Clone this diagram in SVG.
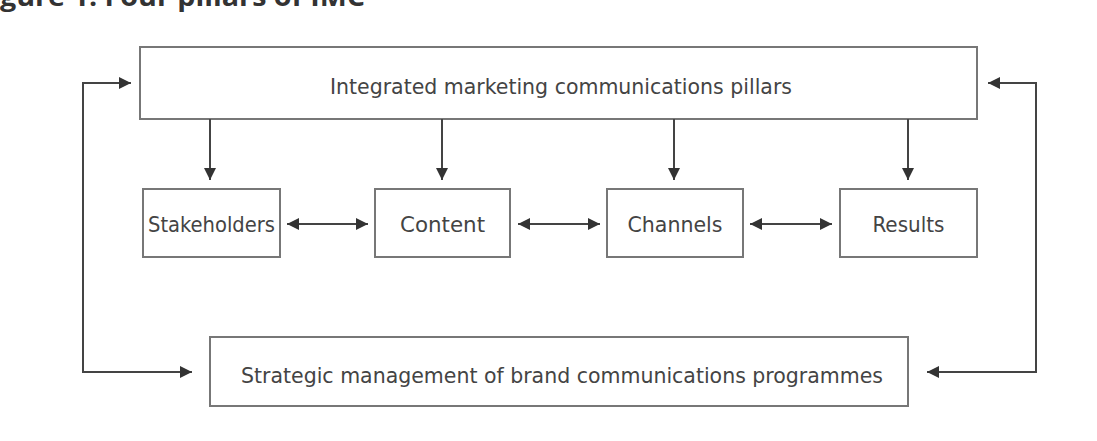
<svg xmlns="http://www.w3.org/2000/svg" width="1097" height="441" viewBox="0 0 1097 441">
<defs>
<style>
.box{fill:#fff;stroke:#777;stroke-width:2}
.t{font-family:"DejaVu Sans Condensed","DejaVu Sans",sans-serif;font-stretch:condensed;fill:#444;font-size:22px;text-anchor:middle}
.c{fill:none;stroke:#444;stroke-width:2}
</style>
<marker id="ah" viewBox="0 0 10 10" refX="10" refY="5" markerWidth="6" markerHeight="6" markerUnits="strokeWidth" orient="auto-start-reverse">
<path d="M0,0 L10,5 L0,10 Z" fill="#333"/>
</marker>
</defs>
<rect width="1097" height="441" fill="#fff"/>
<text x="0" y="6" font-family="'Open Sans','DejaVu Sans',sans-serif" font-weight="bold" font-size="26" fill="#333" textLength="365" lengthAdjust="spacingAndGlyphs">gure 1: Four pillars of IMC</text>
<g id="top"><rect class="box" x="140" y="47" width="837" height="72"/><text class="t" x="561" y="94" textLength="462" lengthAdjust="spacingAndGlyphs">Integrated marketing communications pillars</text></g>
<g id="stakeholders"><rect class="box" x="143" y="189" width="137" height="68"/><text class="t" x="211.5" y="232" textLength="127" lengthAdjust="spacingAndGlyphs">Stakeholders</text></g>
<g id="content"><rect class="box" x="375" y="189" width="135" height="68"/><text class="t" x="442.5" y="232" textLength="85" lengthAdjust="spacingAndGlyphs">Content</text></g>
<g id="channels"><rect class="box" x="607" y="189" width="136" height="68"/><text class="t" x="675" y="232" textLength="95" lengthAdjust="spacingAndGlyphs">Channels</text></g>
<g id="results"><rect class="box" x="840" y="189" width="137" height="68"/><text class="t" x="908.5" y="232" textLength="72" lengthAdjust="spacingAndGlyphs">Results</text></g>
<g id="bottom"><rect class="box" x="210" y="337" width="698" height="69"/><text class="t" x="562" y="383" textLength="642" lengthAdjust="spacingAndGlyphs">Strategic management of brand communications programmes</text></g>
<g id="connectors">
<line class="c" x1="210" y1="119" x2="210" y2="180" marker-end="url(#ah)"/>
<line class="c" x1="442" y1="119" x2="442" y2="180" marker-end="url(#ah)"/>
<line class="c" x1="674" y1="119" x2="674" y2="180" marker-end="url(#ah)"/>
<line class="c" x1="908" y1="119" x2="908" y2="180" marker-end="url(#ah)"/>
<line class="c" x1="287" y1="224" x2="368" y2="224" marker-start="url(#ah)" marker-end="url(#ah)"/>
<line class="c" x1="518" y1="224" x2="600" y2="224" marker-start="url(#ah)" marker-end="url(#ah)"/>
<line class="c" x1="750" y1="224" x2="832" y2="224" marker-start="url(#ah)" marker-end="url(#ah)"/>
<polyline class="c" points="192,372 83,372 83,83 131,83" marker-start="url(#ah)" marker-end="url(#ah)"/>
<polyline class="c" points="988,83 1036,83 1036,372 927,372" marker-start="url(#ah)" marker-end="url(#ah)"/>
</g>
</svg>
